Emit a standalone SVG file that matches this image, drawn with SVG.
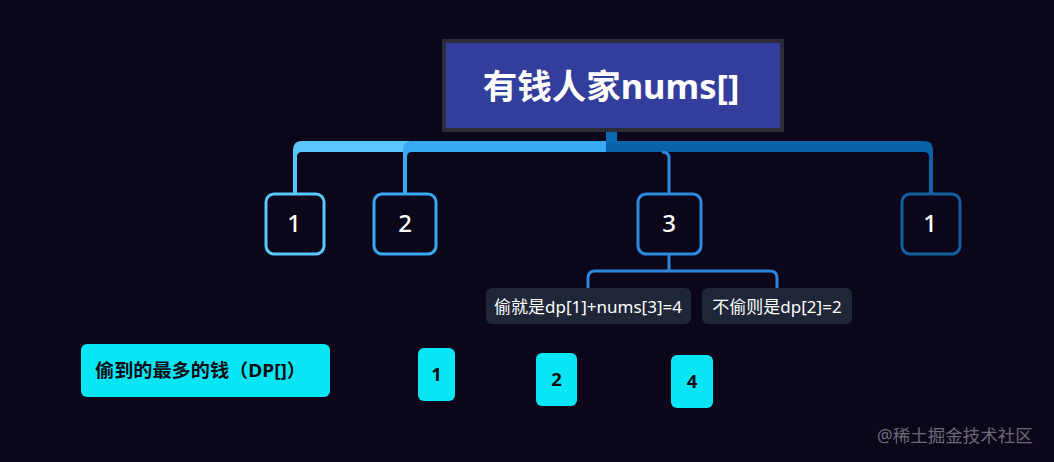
<svg xmlns="http://www.w3.org/2000/svg" width="1054" height="462" viewBox="0 0 1054 462">
<style>
text{font-family:"Noto Sans","Noto Sans CJK SC",sans-serif;}
.root{font-size:34.5px;font-weight:700;fill:#ffffff;}
.child rect{fill:#0b0619;stroke-width:3;}
.child text{font-size:24px;font-weight:500;fill:#ffffff;}
.sub rect{fill:#1e2638;}
.sub text{font-size:17px;fill:#ffffff;}
.dp rect{fill:#08e6f6;}
.dp text{font-size:18.5px;font-weight:700;fill:#0b0b14;}
</style>
<rect x="0" y="0" width="1054" height="462" fill="#0b0619"/>
<g id="connectors">
  <path d="M293,193 V150 Q293,141 302,141 H410 V152 H302 Q297,152 297,157 V193 Z" fill="#5ac8fa"/>
  <path d="M403,193 V150 Q403,141 412,141 H611 V152 H412 Q407,152 407,157 V193 Z" fill="#38aaf5"/>
  <path d="M606,141 H924 Q933,141 933,150 V193 H929 V157 Q929,152 924,152 H606 Z" fill="#0a62a8"/>
  <rect x="606" y="130" width="11" height="12" fill="#0a6ab5"/>
  <path d="M662,152 Q669,152 669,158 V193" fill="none" stroke="#2d8ae0" stroke-width="3"/>
  <path d="M669,255 V271 M588,288 V278 Q588,271 595,271 H770 Q777,271 777,278 V288" fill="none" stroke="#2d86dc" stroke-width="3"/>
</g>
<g id="root">
  <rect x="444" y="41" width="338" height="89" fill="#333d9c" stroke="#2c2c38" stroke-width="4"/>
  <text class="root" x="611" y="99" text-anchor="middle">有钱人家nums[]</text>
</g>
<g id="n1" class="child">
  <rect x="266" y="194" width="58" height="60" rx="8" stroke="#5ac8fa"/>
  <text x="294" y="232" text-anchor="middle">1</text>
</g>
<g id="n2" class="child">
  <rect x="374" y="194" width="62" height="60" rx="8" stroke="#38aaf5"/>
  <text x="405" y="232" text-anchor="middle">2</text>
</g>
<g id="n3" class="child">
  <rect x="638" y="194" width="63" height="60" rx="8" stroke="#2d8ae0"/>
  <text x="669" y="232" text-anchor="middle">3</text>
</g>
<g id="n4" class="child">
  <rect x="902" y="194" width="58" height="60" rx="8" stroke="#11609f"/>
  <text x="930" y="232" text-anchor="middle">1</text>
</g>
<g id="steal" class="sub">
  <rect x="486" y="288" width="205" height="36" rx="6"/>
  <text x="588" y="312.5" text-anchor="middle">偷就是dp[1]+nums[3]=4</text>
</g>
<g id="nosteal" class="sub">
  <rect x="702" y="288" width="150" height="36" rx="6"/>
  <text x="777" y="312.5" text-anchor="middle">不偷则是dp[2]=2</text>
</g>
<g id="dplabel" class="dp">
  <rect x="81" y="344" width="249" height="53" rx="6"/>
  <text x="95" y="377" font-size="19" textLength="211" lengthAdjust="spacingAndGlyphs">偷到的最多的钱（DP[]）</text>
</g>
<g id="dp1" class="dp">
  <rect x="418" y="348" width="37" height="53" rx="6"/>
  <text x="436.5" y="381" text-anchor="middle">1</text>
</g>
<g id="dp2" class="dp">
  <rect x="536" y="353" width="41" height="53" rx="6"/>
  <text x="556.5" y="386" text-anchor="middle">2</text>
</g>
<g id="dp4" class="dp">
  <rect x="671" y="355" width="42" height="53" rx="6"/>
  <text x="692" y="388" text-anchor="middle">4</text>
</g>
<text x="877" y="442" font-size="17.5" fill="#6b6878">@稀土掘金技术社区</text>
</svg>
